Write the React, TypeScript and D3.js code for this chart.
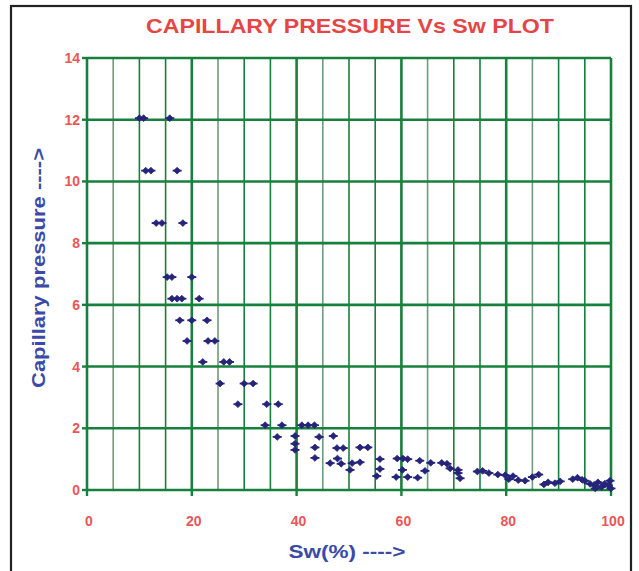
import React from "react";
import * as d3 from "d3";

const xTicks = [0, 20, 40, 60, 80, 100];
const yTicks = [0, 2, 4, 6, 8, 10, 12, 14];
const xGrid = d3.range(0, 101, 5);

const swValues = [
  10, 10.8, 15.8,
  11.2, 12.2, 17.2,
  13.2, 14.3, 18.3,
  15.3, 16.2, 20,
  16.2, 17.2, 18.1, 21.4,
  17.7, 20, 22.9,
  19.1, 23.1, 24.4,
  22.1, 26.1, 27.2,
  25.4, 30, 31.7,
  28.8, 34.3, 36.5,
  34, 37.2, 41, 42.2, 43.4,
  36.3, 39.7, 39.7, 39.7, 44.3, 47,
  43.5, 47.7, 48.9, 52.1, 53.6,
  43.5, 47.8, 55.9, 59.2, 60.3, 61.2, 63.5, 65.6, 67.7, 68.7,
  46.4, 48.5, 50.6, 52.1,
  50.2, 55.9, 60.2, 64.5, 70.8,
  55.3, 59, 61.2, 63.1, 71.2,
  69.3, 70.8,
  74.5, 75.5, 76.7, 78.4, 79.8, 81.3, 80.5, 82.3, 83.6, 85, 86.2, 87.2,
  88, 89.3, 90.3, 92.7, 93.6, 94.5, 95, 96, 96.8, 97.5, 98.2, 98.8, 99.5, 100, 99.8, 97,
];

const pcValues = [
  12.05, 12.05, 12.05,
  10.35, 10.35, 10.35,
  8.65, 8.65, 8.65,
  6.9, 6.9, 6.9,
  6.2, 6.2, 6.2, 6.2,
  5.5, 5.5, 5.5,
  4.83, 4.83, 4.83,
  4.15, 4.15, 4.15,
  3.45, 3.45, 3.45,
  2.78, 2.78, 2.78,
  2.1, 2.1, 2.1, 2.1, 2.1,
  1.72, 1.75, 1.5, 1.3, 1.72, 1.75,
  1.38, 1.36, 1.36, 1.38, 1.38,
  1.04, 1.02, 1.0, 1.02, 1.02, 1.0, 0.95, 0.88, 0.88, 0.85,
  0.87, 0.85, 0.87, 0.9,
  0.65, 0.68, 0.65, 0.62, 0.65,
  0.45, 0.42, 0.42, 0.4, 0.38,
  0.7, 0.55,
  0.6, 0.62, 0.55, 0.5, 0.48, 0.45, 0.35, 0.32, 0.3, 0.42, 0.5, 0.18,
  0.25, 0.22, 0.28, 0.35, 0.4, 0.33, 0.3, 0.2, 0.15, 0.25, 0.1, 0.2, 0.15, 0.05, 0.3, 0.05,
];

const W = 639;
const H = 571;
const plot = { left: 87, right: 611, top: 58, bottom: 490 };

export default function App() {
  const x = d3.scaleLinear().domain([0, 100]).range([plot.left, plot.right]);
  const y = d3.scaleLinear().domain([0, 14]).range([plot.bottom, plot.top]);
  const points = swValues.map((v, i) => ({ sw: v, pc: pcValues[i] }));
  const red = "#e64545";
  const tickRed = "#ea5656";
  const blue = "#3a4aa6";
  const green = "#17803c";
  const navy = "#26247a";

  return (
    <svg
      width={W}
      height={H}
      style={{ position: "absolute", left: 0, top: 0, background: "#fff" }}
      fontFamily="'Liberation Sans', Arial, sans-serif"
    >
      <rect x={0} y={0} width={W} height={H} fill="#fff" />
      <rect x={11} y={6} width={620} height={580} fill="#fff" stroke="#222" strokeWidth={2.2} />

      <text
        x={350}
        y={33}
        textAnchor="middle"
        fill={red}
        fontSize={21}
        fontWeight="bold"
        textLength={408}
        lengthAdjust="spacingAndGlyphs"
      >
        CAPILLARY PRESSURE Vs Sw PLOT
      </text>

      {/* vertical grid */}
      {xGrid.map((v) => {
        const major = v % 20 === 0;
        const light = v % 20 === 5;
        return (
          <line
            key={"vx" + v}
            x1={x(v)}
            x2={x(v)}
            y1={plot.top}
            y2={plot.bottom}
            stroke={light ? "#6f9c7c" : green}
            strokeWidth={major ? 2.6 : 1.6}
          />
        );
      })}
      {/* horizontal grid */}
      {yTicks.map((v) => (
        <line
          key={"hy" + v}
          x1={plot.left}
          x2={plot.right}
          y1={y(v)}
          y2={y(v)}
          stroke={green}
          strokeWidth={2.6}
        />
      ))}

      {/* ticks */}
      {xTicks.map((v) => (
        <line key={"tx" + v} x1={x(v)} x2={x(v)} y1={plot.bottom} y2={plot.bottom + 6} stroke={green} strokeWidth={2.4} />
      ))}
      {yTicks.map((v) => (
        <line key={"ty" + v} x1={plot.left - 5} x2={plot.left} y1={y(v)} y2={y(v)} stroke={green} strokeWidth={2.4} />
      ))}

      {/* tick labels */}
      {yTicks.map((v) => (
        <text
          key={"ly" + v}
          x={plot.left - 7}
          y={y(v) + 5}
          textAnchor="end"
          fill={tickRed}
          fontSize={14}
          fontWeight="bold"
        >
          {v}
        </text>
      ))}
      {xTicks.map((v) => (
        <text
          key={"lx" + v}
          x={x(v) + 2}
          y={526}
          textAnchor="middle"
          fill={tickRed}
          fontSize={14}
          fontWeight="bold"
        >
          {v}
        </text>
      ))}

      {/* points */}
      {points.map((p, i) => {
        const cx = x(p.sw);
        const cy = y(p.pc);
        return (
          <g key={"p" + i} fill={navy} stroke={navy}>
            <line x1={cx - 4.5} x2={cx + 4.5} y1={cy} y2={cy} strokeWidth={1.8} />
            <path d={`M${cx},${cy - 3.4}L${cx + 3.4},${cy}L${cx},${cy + 3.4}L${cx - 3.4},${cy}Z`} strokeWidth={0.8} />
          </g>
        );
      })}

      {/* axis titles */}
      <text
        x={347}
        y={558}
        textAnchor="middle"
        fill={blue}
        fontSize={19}
        fontWeight="bold"
        textLength={117}
        lengthAdjust="spacingAndGlyphs"
      >
        Sw(%) ----&gt;
      </text>
      <text
        transform={`translate(45,268) rotate(-90)`}
        textAnchor="middle"
        fill={blue}
        fontSize={19}
        fontWeight="bold"
        textLength={240}
        lengthAdjust="spacingAndGlyphs"
      >
        Capillary pressure ----&gt;
      </text>
    </svg>
  );
}
